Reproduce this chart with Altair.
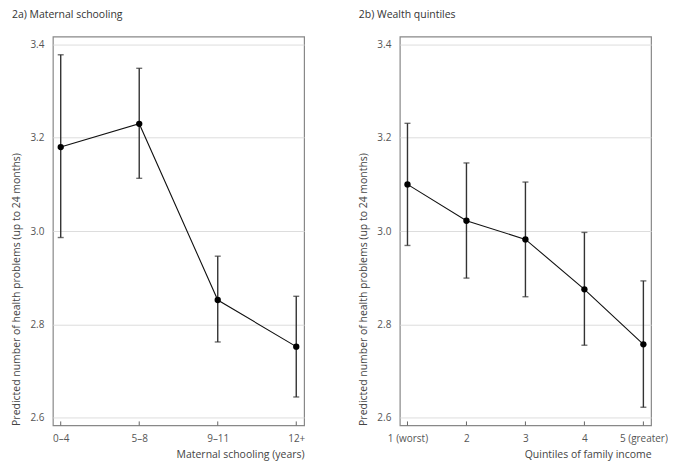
import altair as alt
import pandas as pd

# Panel a: maternal schooling
school_cats = ["0–4", "5–8", "9–11", "12+"]
school_est = [3.180, 3.230, 2.852, 2.752]
school_lo = [2.986, 3.113, 2.762, 2.644]
school_hi = [3.378, 3.349, 2.946, 2.860]

# Panel b: wealth quintiles
wealth_cats = ["1 (worst)", "2", "3", "4", "5 (greater)"]
wealth_est = [3.100, 3.022, 2.982, 2.875, 2.757]
wealth_lo = [2.969, 2.899, 2.859, 2.755, 2.622]
wealth_hi = [3.231, 3.146, 3.105, 2.997, 2.893]

y_ticks = [2.6, 2.8, 3.0, 3.2, 3.4]
y_title = "Predicted number of health problems (up to 24 months)"

W, H = 252, 390
FONT = "Open Sans"


def panel(cats, est, lo, hi, xtitle, ptitle, pad):
    df = pd.DataFrame({"cat": cats, "est": est, "lo": lo, "hi": hi})
    x = alt.X(
        "cat:N",
        sort=cats,
        scale=alt.Scale(type="point", padding=pad),
        axis=alt.Axis(
            title=xtitle,
            titleAnchor="end",
            labelAngle=0,
            ticks=False,
            domain=False,
            grid=False,
            labelPadding=8,
            titlePadding=6,
        ),
    )
    yscale = alt.Scale(domain=[2.583, 3.417], nice=False, zero=False)
    y = alt.Y(
        "est:Q",
        scale=yscale,
        axis=alt.Axis(
            title=y_title,
            values=y_ticks,
            format=".1f",
            ticks=False,
            domain=False,
            grid=True,
            gridColor="#dddddd",
            labelPadding=9,
            titlePadding=8,
            titleAnchor="start",
        ),
    )
    base = alt.Chart(df)
    bars = base.mark_rule(color="#333333", strokeWidth=1.4).encode(
        x=x, y=alt.Y("lo:Q", scale=yscale), y2="hi:Q"
    )
    cap_lo = base.mark_tick(color="#333333", size=6, thickness=1.4).encode(
        x=x, y=alt.Y("lo:Q", scale=yscale)
    )
    cap_hi = base.mark_tick(color="#333333", size=6, thickness=1.4).encode(
        x=x, y=alt.Y("hi:Q", scale=yscale)
    )
    inner_ticks = base.mark_rule(color="#666666", strokeWidth=1).encode(
        x=x, y=alt.value(H), y2=alt.value(H - 4)
    )
    line = base.mark_line(color="#111111", strokeWidth=1.1).encode(x=x, y=y)
    pts = base.mark_point(filled=True, color="#000000", size=40, opacity=1).encode(
        x=x, y=alt.Y("est:Q", scale=yscale)
    )
    return alt.layer(line, bars, cap_lo, cap_hi, inner_ticks, pts).properties(
        width=W,
        height=H,
        title=alt.TitleParams(
            ptitle, anchor="start", frame="bounds", offset=16, fontSize=10.5,
            fontWeight="normal", color="#333333", font=FONT,
        ),
    )


left = panel(school_cats, school_est, school_lo, school_hi,
             "Maternal schooling (years)", "2a) Maternal schooling", 0.1)
right = panel(wealth_cats, wealth_est, wealth_lo, wealth_hi,
              "Quintiles of family income", "2b) Wealth quintiles", 0.13)

chart = (
    alt.hconcat(left, right, spacing=52)
    .properties(padding={"left": 3, "top": 0, "right": 0, "bottom": 0},
                background="white")
    .configure_view(stroke="#888888", strokeWidth=1.2)
    .configure_axis(
        labelFont=FONT, titleFont=FONT, labelFontSize=10, titleFontSize=10.5,
        labelColor="#555555", titleColor="#444444", titleFontWeight="normal",
    )
)

chart.save("out.html", embed_options={"renderer": "svg", "actions": False})
